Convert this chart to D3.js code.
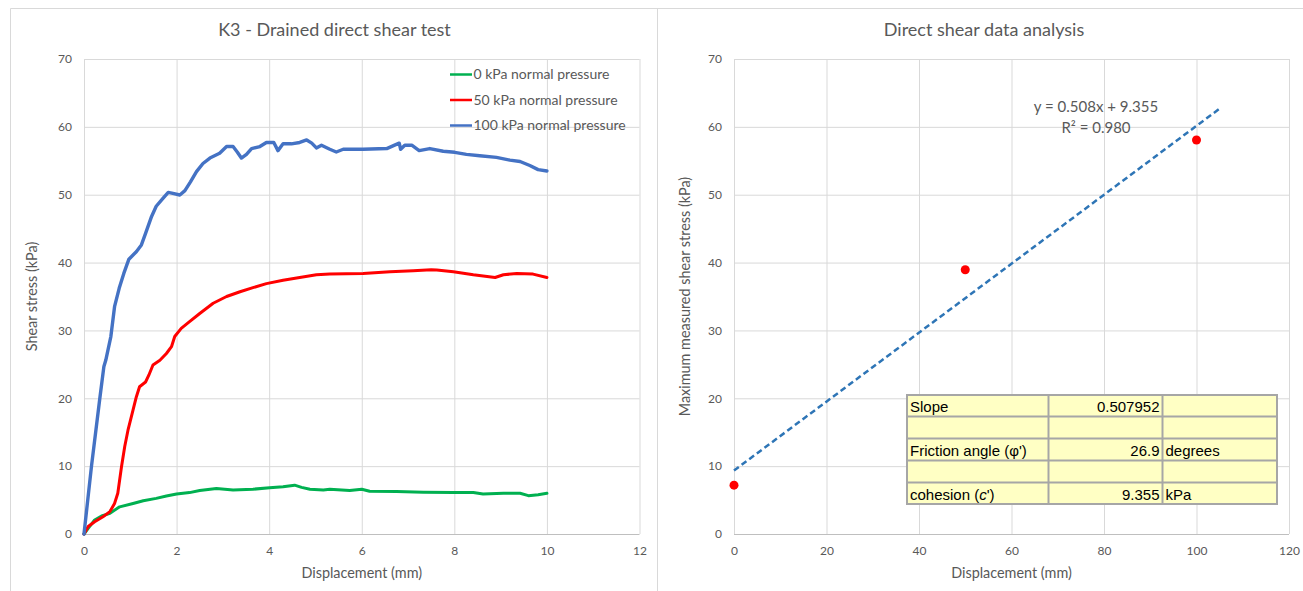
<!DOCTYPE html>
<html>
<head>
<meta charset="utf-8">
<script src="https://cdn.jsdelivr.net/npm/d3@7"></script>
<style>
  html, body { margin: 0; padding: 0; background: #ffffff; }
  svg { display: block; }
  text { font-family: Lato, "Open Sans", sans-serif; }
</style>
</head>
<body>
<svg id="chart" width="1303" height="591"></svg>
<script>
// ---- Shear stress vs displacement, one series per normal pressure ----
const curve0kPa = [
  [0,0],[0.09,0.83],[0.23,2.06],[0.38,2.65],[0.56,3.04],[0.77,4.0],[1.06,4.5],[1.28,4.9],
  [1.56,5.25],[1.78,5.6],[2.0,5.9],[2.28,6.1],[2.5,6.4],[2.86,6.7],[3.22,6.5],[3.65,6.6],
  [4.01,6.8],[4.3,6.97],[4.55,7.2],[4.7,6.87],[4.88,6.6],[5.17,6.5],[5.31,6.6],[5.74,6.4],
  [6.0,6.6],[6.17,6.3],[6.75,6.25],[7.33,6.15],[7.98,6.1],[8.41,6.1],[8.62,5.9],[9.06,6.0],
  [9.42,6.0],[9.6,5.65],[9.81,5.8],[10.0,6.0]
];
const curve50kPa = [
  [0,0],[0.09,1.1],[0.23,1.8],[0.41,2.55],[0.56,3.3],[0.66,4.5],[0.73,6.0],[0.81,9.9],
  [0.88,12.9],[0.95,15.3],[1.06,18.3],[1.13,20.2],[1.2,21.7],[1.33,22.4],[1.4,23.4],[1.49,24.9],
  [1.64,25.6],[1.78,26.6],[1.89,27.6],[1.96,29.1],[2.1,30.3],[2.28,31.3],[2.5,32.5],[2.79,34.0],
  [3.08,35.0],[3.37,35.7],[3.65,36.3],[3.94,36.9],[4.3,37.4],[4.66,37.8],[5.02,38.2],[5.31,38.3],
  [6.03,38.4],[6.61,38.65],[7.11,38.8],[7.5,38.95],[7.62,38.9],[7.98,38.65],[8.41,38.2],[8.88,37.8],
  [9.06,38.2],[9.35,38.4],[9.7,38.3],[10.0,37.8]
];
const curve100kPa = [
  [0,0],[0.16,9.9],[0.34,19.9],[0.43,24.7],[0.47,25.6],[0.58,29.1],[0.66,33.5],[0.76,36.2],
  [0.86,38.4],[0.97,40.5],[1.13,41.6],[1.24,42.6],[1.33,44.3],[1.46,46.8],[1.56,48.3],[1.71,49.5],
  [1.82,50.35],[1.92,50.2],[2.07,49.96],[2.18,50.6],[2.3,51.9],[2.43,53.4],[2.57,54.6],[2.72,55.4],
  [2.93,56.1],[3.08,57.1],[3.22,57.1],[3.31,56.3],[3.4,55.4],[3.51,55.95],[3.62,56.8],[3.8,57.1],
  [3.94,57.7],[4.1,57.7],[4.19,56.5],[4.3,57.5],[4.48,57.5],[4.66,57.7],[4.81,58.07],[4.92,57.6],
  [5.02,56.9],[5.13,57.3],[5.31,56.7],[5.45,56.3],[5.6,56.7],[6.03,56.7],[6.54,56.8],[6.71,57.3],
  [6.81,57.6],[6.84,56.7],[6.93,57.3],[7.08,57.3],[7.24,56.5],[7.47,56.8],[7.76,56.4],[8.01,56.25],
  [8.26,55.95],[8.55,55.75],[8.91,55.5],[9.2,55.1],[9.42,54.9],[9.63,54.3],[9.81,53.7],[10.0,53.5]
];
const seriesNames = ["0 kPa normal pressure", "50 kPa normal pressure", "100 kPa normal pressure"];
const seriesColors = ["#00b050", "#ff0000", "#4472c4"];

// ---- Peak shear stress against normal pressure ----
const normalPressure = [0, 50, 100];
const peakStress = [7.2, 38.95, 58.07];
const fitSlope = 0.507952;
const fitIntercept = 9.355;
const fitRange = [0, 105];
const fitLabel = ["y = 0.508x + 9.355", "R² = 0.980"];

// ---- Result table ----
const tableRows = [
  ["Slope", "0.507952", ""],
  ["", "", ""],
  ["Friction angle (φ')", "26.9", "degrees"],
  ["", "", ""],
  ["cohesion (c')", "9.355", "kPa"]
];

const xTicksLeft = [0, 2, 4, 6, 8, 10, 12];
const xTicksRight = [0, 20, 40, 60, 80, 100, 120];
const yTicks = [0, 10, 20, 30, 40, 50, 60, 70];

const svg = d3.select("#chart");
const gridColor = "#d9d9d9";
const textColor = "#595959";

// chart frames
svg.append("path")
  .attr("d", "M10.5,600 V8.5 H1303 M657.5,8.5 V600")
  .attr("fill", "none").attr("stroke", "#d9d9d9").attr("stroke-width", 1);

function drawFrame(x, y, xTicks, opts) {
  const g = svg.append("g");
  // grid
  g.selectAll(".gx").data(xTicks).join("line")
    .attr("x1", d => x(d) + 0.5).attr("x2", d => x(d) + 0.5)
    .attr("y1", y(70)).attr("y2", y(0))
    .attr("stroke", gridColor).attr("stroke-width", 1);
  g.selectAll(".gy").data(yTicks).join("line")
    .attr("x1", x.range()[0]).attr("x2", x.range()[1])
    .attr("y1", d => y(d) + 0.5).attr("y2", d => y(d) + 0.5)
    .attr("stroke", d => d === 0 ? "#bfbfbf" : gridColor).attr("stroke-width", 1);

  const ax = g.append("g").attr("transform", `translate(0,${y(0)})`)
    .call(d3.axisBottom(x).tickValues(xTicks).tickSize(0).tickPadding(12));
  const ay = g.append("g").attr("transform", `translate(${x.range()[0]},0)`)
    .call(d3.axisLeft(y).tickValues(yTicks).tickSize(0).tickPadding(12));
  [ax, ay].forEach(a => {
    a.select(".domain").remove();
    a.selectAll("text").attr("fill", textColor).style("font-size", "12px")
      .style("font-family", "Lato, sans-serif");
  });

  // titles
  const cx = (x.range()[0] + x.range()[1]) / 2;
  g.append("text").attr("x", opts.titleX).attr("y", 30).attr("dy", "0.35em")
    .attr("text-anchor", "middle").attr("fill", textColor)
    .style("font-size", "18px").text(opts.title);
  g.append("text").attr("x", cx).attr("y", 573).attr("dy", "0.35em")
    .attr("text-anchor", "middle").attr("fill", textColor)
    .style("font-size", "14.4px").text(opts.xTitle);
  g.append("text")
    .attr("transform", `translate(${opts.yTitleX},${(y(0) + y(70)) / 2}) rotate(-90)`)
    .attr("dy", "0.35em").attr("text-anchor", "middle").attr("fill", textColor)
    .style("font-size", "14.4px").text(opts.yTitle);
}

// ---------- left chart ----------
const xL = d3.scaleLinear().domain([0, 12]).range([84, 639.5]);
const yS = d3.scaleLinear().domain([0, 70]).range([534, 59]);

drawFrame(xL, yS, xTicksLeft, {
  title: "K3 - Drained direct shear test", titleX: 334.5,
  xTitle: "Displacement (mm)", yTitle: "Shear stress (kPa)", yTitleX: 32
});

const line = d3.line().x(d => xL(d[0])).y(d => yS(d[1]));
[curve0kPa, curve50kPa, curve100kPa].forEach((c, i) => {
  svg.append("path").datum(c).attr("d", line)
    .attr("fill", "none").attr("stroke", seriesColors[i])
    .attr("stroke-width", i === 2 ? 3.4 : 3)
    .attr("stroke-linejoin", "round").attr("stroke-linecap", "round");
});

// legend
const lg = svg.append("g");
seriesNames.forEach((n, i) => {
  const ly = 74.5 + i * 25.5;
  lg.append("line").attr("x1", 450).attr("x2", 472).attr("y1", ly).attr("y2", ly)
    .attr("stroke", seriesColors[i]).attr("stroke-width", 2.5);
  lg.append("text").attr("x", 473.5).attr("y", ly).attr("dy", "0.35em")
    .attr("fill", textColor).style("font-size", "14px").text(n);
});

// ---------- right chart ----------
const xR = d3.scaleLinear().domain([0, 120]).range([734, 1289]);

drawFrame(xR, yS, xTicksRight, {
  title: "Direct shear data analysis", titleX: 984,
  xTitle: "Displacement (mm)", yTitle: "Maximum measured shear stress (kPa)", yTitleX: 685
});

// linear fit
svg.append("line")
  .attr("x1", xR(fitRange[0])).attr("y1", yS(fitIntercept + fitSlope * fitRange[0]))
  .attr("x2", xR(fitRange[1])).attr("y2", yS(fitIntercept + fitSlope * fitRange[1]))
  .attr("stroke", "#2e75b6").attr("stroke-width", 2.5).attr("stroke-dasharray", "6,3.5");

// peak points
svg.selectAll(".peak").data(normalPressure.map((p, i) => [p, peakStress[i]])).join("circle")
  .attr("cx", d => xR(d[0])).attr("cy", d => yS(d[1])).attr("r", 4.5).attr("fill", "#ff0000");

// fit equation
fitLabel.forEach((t, i) => {
  svg.append("text").attr("x", 1096).attr("y", 107 + i * 20.5).attr("dy", "0.35em")
    .attr("text-anchor", "middle").attr("fill", textColor)
    .style("font-size", "15px").text(t);
});

// result table
const colX = [907, 1048.5, 1162.5, 1277];
const rowY = [395, 416.5, 438.5, 460.5, 482.5, 504];
const tg = svg.append("g");
tg.append("rect").attr("x", colX[0]).attr("y", rowY[0])
  .attr("width", colX[3] - colX[0]).attr("height", rowY[5] - rowY[0])
  .attr("fill", "#ffffc4").attr("stroke", "#a6a6a6").attr("stroke-width", 2);
colX.slice(1, 3).forEach(cx => tg.append("line").attr("x1", cx).attr("x2", cx)
  .attr("y1", rowY[0]).attr("y2", rowY[5]).attr("stroke", "#a6a6a6").attr("stroke-width", 2));
rowY.slice(1, 5).forEach(ry => tg.append("line").attr("x1", colX[0]).attr("x2", colX[3])
  .attr("y1", ry).attr("y2", ry).attr("stroke", "#a6a6a6").attr("stroke-width", 2));
tableRows.forEach((r, i) => {
  const cy = (rowY[i] + rowY[i + 1]) / 2 + 1;
  const t0 = tg.append("text").attr("x", colX[0] + 3).attr("y", cy).attr("dy", "0.35em")
    .style("font-family", "'Liberation Sans', Arial, sans-serif").style("font-size", "15px").attr("fill", "#000");
  if (r[0].startsWith("cohesion")) {
    t0.append("tspan").text("cohesion (");
    t0.append("tspan").style("font-style", "italic").text("c");
    t0.append("tspan").text("')");
  } else {
    t0.text(r[0]);
  }
  tg.append("text").attr("x", colX[2] - 3).attr("y", cy).attr("dy", "0.35em")
    .attr("text-anchor", "end")
    .style("font-family", "'Liberation Sans', Arial, sans-serif").style("font-size", "15px").attr("fill", "#000")
    .text(r[1]);
  tg.append("text").attr("x", colX[2] + 3).attr("y", cy).attr("dy", "0.35em")
    .style("font-family", "'Liberation Sans', Arial, sans-serif").style("font-size", "15px").attr("fill", "#000")
    .text(r[2]);
});
</script>
</body>
</html>
